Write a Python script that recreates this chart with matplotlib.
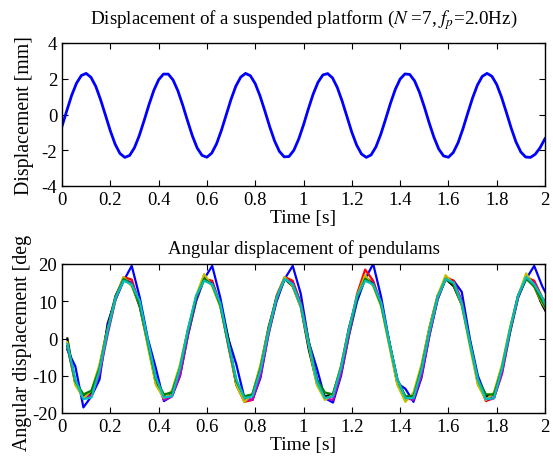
import numpy as np
import matplotlib
matplotlib.use('Agg')
import matplotlib.pyplot as plt
from matplotlib.transforms import Bbox

plt.rcParams['font.family'] = ['Liberation Serif', 'DejaVu Serif']
plt.rcParams['mathtext.fontset'] = 'stix'
plt.rcParams['axes.unicode_minus'] = False

# platform displacement [mm], sampled every 0.02 s
platform_dt = 0.02
platform_mm = [
    -0.66, 0.22, 1.07, 1.75, 2.18, 2.30, 2.08, 1.57, 0.82, -0.04,
    -0.91, -1.66, -2.18, -2.40, -2.29, -1.86, -1.18, -0.34, 0.54, 1.34,
    1.94, 2.26, 2.26, 1.93, 1.32, 0.52, -0.36, -1.20, -1.88, -2.29,
    -2.39, -2.16, -1.64, -0.89, -0.02, 0.85, 1.59, 2.09, 2.30, 2.17,
    1.73, 1.04, 0.20, -0.68, -1.47, -2.06, -2.37, -2.35, -2.00, -1.38,
    -0.58, 0.31, 1.14, 1.80, 2.21, 2.29, 2.05, 1.51, 0.75, -0.12,
    -0.99, -1.71, -2.21, -2.40, -2.26, -1.81, -1.11, -0.26, 0.62, 1.40,
    1.98, 2.27, 2.24, 1.88, 1.25, 0.44, -0.45, -1.27, -1.93, -2.32,
    -2.39, -2.13, -1.58, -0.81, 0.07, 0.92, 1.64, 2.13, 2.30, 2.14,
    1.68, 0.97, 0.12, -0.76, -1.54, -2.10, -2.38, -2.40, -2.22, -1.85,
    -1.35,
]

# pendulum angles [deg], sampled every 1/30 s starting at 0.022 s
pend_t0 = 0.022
pend_dt = 1.0 / 30
pend_blue = [
    -3.0, -7.5, -18.5, -15.5, -11.0, 4.0, 10.5, 15.5, 19.5, 11.0,
    0.0, -8.0, -16.8, -15.5, -10.0, 1.0, 10.0, 16.0, 19.5, 11.0,
    0.0, -7.0, -16.0, -16.5, -10.5, 1.5, 10.0, 16.0, 19.5, 12.0,
    -1.0, -8.0, -16.0, -17.2, -10.0, 1.0, 10.0, 16.0, 20.0, 11.0,
    -1.0, -12.0, -13.5, -17.0, -10.5, 1.0, 10.5, 16.0, 15.5, 12.5,
    0.0, -10.0, -15.5, -16.0, -9.0, 2.0, 11.0, 16.0, 19.5, 14.0,
    10.0,
]
pend_red = [
    -2.0, -12.0, -16.0, -15.0, -8.0, 2.0, 11.0, 16.5, 15.8, 9.0,
    -1.0, -11.5, -16.0, -15.5, -8.5, 2.0, 11.0, 16.0, 15.5, 9.0,
    -2.0, -12.5, -17.0, -16.5, -8.5, 2.0, 11.5, 16.5, 15.5, 9.5,
    -1.0, -11.0, -16.0, -15.5, -8.0, 2.0, 12.0, 18.5, 15.5, 9.0,
    -1.0, -11.0, -16.0, -16.0, -8.5, 2.0, 11.0, 16.5, 15.5, 10.0,
    -1.0, -11.5, -16.8, -16.0, -8.0, 2.5, 11.5, 16.5, 15.5, 11.0,
    8.0,
]
pend_magenta = [
    -2.0, -12.0, -15.5, -15.5, -9.5, 1.0, 10.5, 16.0, 15.0, 9.5,
    -1.0, -11.0, -16.5, -15.5, -10.0, 1.0, 10.5, 16.0, 15.0, 9.0,
    -1.5, -11.5, -16.5, -16.5, -10.0, 1.0, 10.5, 16.0, 15.0, 9.5,
    -1.0, -11.0, -16.0, -16.5, -9.5, 1.0, 11.0, 16.5, 15.0, 9.5,
    -1.0, -11.0, -16.0, -16.5, -10.0, 1.0, 10.5, 16.0, 15.0, 10.0,
    -1.0, -11.0, -16.5, -16.0, -9.5, 1.5, 11.0, 16.5, 15.0, 10.5,
    7.0,
]
pend_black = [
    0.0, -12.0, -15.5, -14.5, -7.5, 3.0, 11.5, 16.0, 14.5, 8.5,
    -1.5, -12.0, -15.5, -14.5, -7.5, 2.5, 11.0, 16.0, 14.5, 9.0,
    0.0, -12.5, -16.0, -15.0, -7.5, 3.0, 11.0, 16.0, 14.0, 8.5,
    -3.0, -12.0, -15.5, -15.0, -7.5, 3.0, 11.0, 16.5, 14.5, 9.0,
    -1.5, -12.0, -16.0, -15.5, -7.5, 3.0, 11.5, 16.0, 14.0, 9.0,
    -1.0, -12.0, -15.5, -15.0, -7.5, 2.5, 11.5, 16.5, 14.0, 9.0,
    5.0,
]
pend_yellow = [
    -1.0, -12.5, -16.0, -14.0, -7.0, 2.5, 11.0, 16.5, 14.0, 9.0,
    -2.0, -12.5, -16.0, -14.0, -7.0, 2.5, 11.5, 17.3, 14.0, 8.5,
    -1.5, -12.5, -17.0, -15.0, -7.0, 2.5, 11.0, 16.5, 14.0, 8.5,
    -2.0, -12.5, -16.5, -15.0, -7.5, 2.5, 11.5, 17.0, 14.0, 8.5,
    -2.0, -12.5, -17.0, -14.5, -7.0, 3.0, 11.5, 17.0, 14.5, 9.0,
    -2.0, -12.5, -16.5, -14.5, -7.0, 3.0, 11.5, 17.5, 14.0, 9.5,
    6.0,
]
pend_green = [
    -2.0, -11.5, -15.0, -14.0, -8.0, 2.0, 11.0, 16.0, 14.5, 9.0,
    -1.0, -11.0, -15.0, -14.5, -8.0, 2.0, 11.0, 16.0, 14.5, 9.0,
    -1.5, -11.5, -15.5, -15.0, -8.0, 2.0, 11.0, 16.0, 14.5, 9.0,
    -1.0, -11.0, -14.5, -15.0, -8.0, 2.0, 11.0, 16.0, 14.5, 9.0,
    -1.0, -11.0, -15.5, -15.5, -8.0, 2.0, 11.0, 16.0, 14.5, 9.5,
    -1.0, -11.0, -15.0, -15.0, -8.0, 2.0, 11.5, 16.0, 14.0, 10.0,
    6.0,
]
pend_cyan = [
    -1.5, -11.0, -16.3, -15.8, -8.5, 2.0, 11.0, 15.5, 14.5, 10.0,
    -0.5, -10.5, -15.8, -15.5, -8.0, 2.5, 11.5, 15.5, 14.5, 9.5,
    -1.0, -11.0, -16.0, -15.5, -8.5, 2.0, 11.0, 16.0, 14.5, 9.0,
    -1.5, -11.5, -16.0, -15.5, -8.0, 2.5, 11.5, 15.5, 14.5, 9.5,
    -1.0, -11.0, -16.0, -16.0, -8.5, 2.0, 11.0, 16.0, 15.0, 9.5,
    -1.0, -11.0, -16.3, -16.0, -8.0, 2.5, 11.5, 16.5, 14.5, 11.0,
    6.0,
]
pendulums = [
    (pend_blue, 'b'), (pend_red, 'r'), (pend_magenta, 'm'),
    (pend_black, 'k'), (pend_yellow, 'y'), (pend_green, 'g'),
    (pend_cyan, 'c'),
]

xticks = [0, 0.2, 0.4, 0.6, 0.8, 1, 1.2, 1.4, 1.6, 1.8, 2]
xticklabels = ['0', '0.2', '0.4', '0.6', '0.8', '1', '1.2', '1.4', '1.6', '1.8', '2']

fig = plt.figure(figsize=(5.53, 4.60), dpi=100)
ax1 = fig.add_axes([62 / 553, 1 - 187 / 460, 483 / 553, 143 / 460])
ax2 = fig.add_axes([62 / 553, 1 - 414 / 460, 483 / 553, 149 / 460])

t_plat = np.arange(len(platform_mm)) * platform_dt
ax1.plot(t_plat, platform_mm, color='#0000ff', lw=2.0)
ax1.set_xlim(0, 2)
ax1.set_ylim(-4, 4)
ax1.set_yticks([-4, -2, 0, 2, 4])
ax1.set_title('Displacement of a suspended platform ($N$ =7, $f_p$=2.0Hz)',
              fontsize=13.7, pad=14)
ax1.set_ylabel('Displacement [mm]', fontsize=14.3, labelpad=5.5)

for vals, col in pendulums:
    t = pend_t0 + np.arange(len(vals)) * pend_dt
    ax2.plot(t, vals, color=col, lw=1.6)
ax2.set_xlim(0, 2)
ax2.set_ylim(-20, 20)
ax2.set_yticks([-20, -10, 0, 10, 20])
ax2.set_title('Angular displacement of pendulams', fontsize=13.5, pad=8)
yl = ax2.set_ylabel('Angular displacement [deg]', fontsize=14.3, labelpad=0)
yl.set_clip_box(Bbox([[0, 0], [553, 460 - 236]]))
yl.set_clip_on(True)

for ax in (ax1, ax2):
    ax.set_xticks(xticks)
    ax.set_xticklabels(xticklabels)
    ax.set_xlabel('Time [s]', fontsize=14, labelpad=0.5)
    ax.tick_params(direction='in', top=True, right=True, length=4,
                   labelsize=13.5, pad=3.5)
    for s in ax.spines.values():
        s.set_linewidth(1.0)

fig.savefig('out.png', dpi=100)
